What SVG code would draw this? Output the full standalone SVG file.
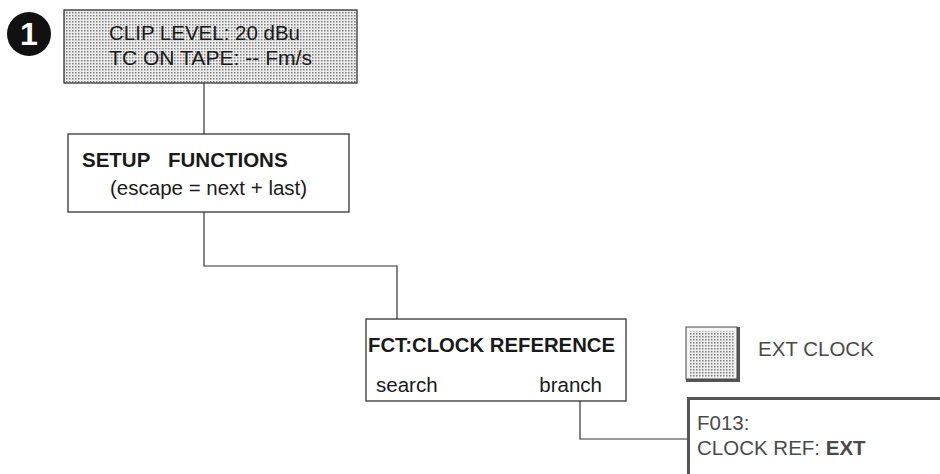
<svg xmlns="http://www.w3.org/2000/svg" width="940" height="474" viewBox="0 0 940 474">
<defs>
<pattern id="dots" width="3" height="3" patternUnits="userSpaceOnUse">
<rect width="3" height="3" fill="#ececec"/>
<rect x="0" y="0" width="1.5" height="1.5" fill="#808080"/>
</pattern>
<style>
.box{fill:#fff;stroke:#333;stroke-width:1.3}
.t{font-family:"Liberation Sans",Arial,sans-serif;font-size:20.5px;fill:#1a1a1a}
.b{font-weight:bold}
.g{fill:#4a4a4a}
.line{fill:none;stroke:#333;stroke-width:1.2}
</style>
</defs>
<rect width="940" height="474" fill="#fff"/>
<g id="badge">
<circle cx="29" cy="34" r="22" fill="#111"/>
<text x="29" y="45" text-anchor="middle" font-family="Liberation Sans,Arial,sans-serif" font-weight="bold" font-size="32" fill="#fff">1</text>
</g>
<g id="connectors">
<path class="line" d="M204 83V134"/>
<path class="line" d="M204 212V266H397V319"/>
<path class="line" d="M580 401V439H687"/>
</g>
<g id="display">
<rect x="64" y="10" width="293" height="73" fill="url(#dots)" stroke="#333" stroke-width="1.3"/>
<text class="t" x="109" y="40" font-size="20" textLength="191" lengthAdjust="spacingAndGlyphs">CLIP LEVEL: 20 dBu</text>
<text class="t" x="109" y="65" font-size="20" textLength="203" lengthAdjust="spacingAndGlyphs">TC ON TAPE: -- Fm/s</text>
</g>
<g id="setup">
<rect class="box" x="68" y="134" width="281" height="78"/>
<text class="t b" x="82" y="167">SETUP</text>
<text class="t b" x="168" y="167">FUNCTIONS</text>
<text class="t" x="110" y="195">(escape = next + last)</text>
</g>
<g id="fct">
<rect class="box" x="366" y="319" width="260" height="82"/>
<text class="t" x="368" y="352" font-size="21.5" textLength="247" lengthAdjust="spacingAndGlyphs"><tspan font-weight="bold">FCT:CLOCK REFERENCE</tspan></text>
<text class="t" x="376" y="392" font-size="21.5">search</text>
<text class="t" x="602" y="392" font-size="21.5" text-anchor="end">branch</text>
</g>
<g id="extclock">
<rect x="686" y="327" width="54" height="55" fill="#555"/>
<rect x="686" y="327" width="51" height="52" fill="#f4f4f4" stroke="#444" stroke-width="1"/>
<rect x="690" y="331" width="45" height="46" fill="url(#dots)"/>
<text class="t g" x="758" y="356" font-size="22">EXT CLOCK</text>
</g>
<g id="f013">
<rect x="687" y="397" width="260" height="90" fill="#fff"/>
<path d="M688.5 474V398.5H940" fill="none" stroke="#555" stroke-width="3"/>
<text class="t g" x="697" y="430" font-size="21">F013:</text>
<text class="t g" x="697" y="455" font-size="21">CLOCK REF: <tspan font-weight="bold">EXT</tspan></text>
</g>
</svg>
